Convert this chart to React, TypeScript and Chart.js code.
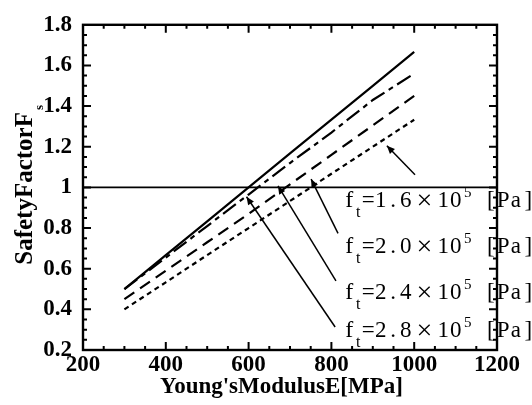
import React, { useEffect, useRef } from 'react';
import { Chart, registerables } from 'chart.js';

Chart.register(...registerables);

// ---- data ----
const E_VALUES = [300, 400, 500, 600, 700, 800, 900, 1000];
const FS_SOLID = [0.5, 0.667, 0.833, 1.0, 1.167, 1.333, 1.5, 1.667];
const FS_DASHDOT = [0.5, 0.655, 0.81, 0.965, 1.12, 1.27, 1.43, 1.56];
const FS_DASHED = [0.45, 0.59, 0.73, 0.87, 1.015, 1.16, 1.305, 1.45];
const FS_DOTTED = [0.4, 0.533, 0.667, 0.8, 0.933, 1.067, 1.2, 1.333];

const X_TICKS = [200, 400, 600, 800, 1000, 1200];
const X_TICK_LABELS = ['200', '400', '600', '800', '1000', '1200'];
const Y_TICKS = [0.2, 0.4, 0.6, 0.8, 1.0, 1.2, 1.4, 1.6, 1.8];
const Y_TICK_LABELS = ['0.2', '0.4', '0.6', '0.8', '1', '1.2', '1.4', '1.6', '1.8'];
const REFERENCE_FS = 1;

const FT_VALUES = ['1.6', '2.0', '2.4', '2.8'];
// annotation anchors in data units (E, Fs)
const LABEL_X = 828;
const LABEL_Y = [0.905, 0.678, 0.451, 0.263];
const ARROW_FROM_X = [1002, 816, 811, 809];
const ARROW_FROM_Y = [1.062, 0.774, 0.54, 0.313];
const ARROW_TO_X = [934, 751, 671, 595];
const ARROW_TO_Y = [1.205, 1.041, 1.007, 0.954];

const X_TITLE = "Young'sModulusE[MPa]";
const Y_TITLE = 'SafetyFactorF';
const Y_TITLE_SUB = 's';

const SERIF = '"Liberation Serif", "Times New Roman", serif';

function drawCell(ctx: CanvasRenderingContext2D, ch: string, x: number, y: number, w: number) {
  const m = ctx.measureText(ch).width;
  ctx.fillText(ch, x + (w - m) / 2, y);
}

function drawFtLabel(ctx: CanvasRenderingContext2D, x: number, y: number, val: string) {
  const H = 12.5;
  const main = `23px ${SERIF}`;
  const small = `16px ${SERIF}`;
  ctx.textAlign = 'left';
  ctx.textBaseline = 'alphabetic';
  let cx = x;
  ctx.font = `24px ${SERIF}`;
  drawCell(ctx, 'f', cx, y, H);
  cx += H;
  ctx.font = small;
  ctx.fillText('t', cx + 0.5, y + 10);
  cx += 6.5;
  for (const ch of '=' + val + '×10') {
    const w = ch === '×' ? 2 * H : H;
    if (ch === '×') {
      ctx.font = `28px ${SERIF}`;
      drawCell(ctx, ch, cx, y + 2, w);
    } else {
      ctx.font = main;
      drawCell(ctx, ch, cx, y, w);
    }
    cx += w;
  }
  ctx.font = `15px ${SERIF}`;
  ctx.fillText('5', cx + 2, y - 10);
  cx += 22.5;
  ctx.font = main;
  for (const ch of '[Pa]') {
    drawCell(ctx, ch, cx, y, H);
    cx += H;
  }
}

const decorPlugin = {
  id: 'decor',
  afterDatasetsDraw(chart: any) {
    const { ctx, chartArea: a, scales } = chart;
    const xs = scales.x;
    const ys = scales.y;
    ctx.save();
    ctx.strokeStyle = '#000';
    ctx.fillStyle = '#000';
    ctx.lineCap = 'butt';

    // reference line Fs = 1
    ctx.lineWidth = 1.8;
    const yr = ys.getPixelForValue(REFERENCE_FS);
    ctx.beginPath();
    ctx.moveTo(a.left, yr);
    ctx.lineTo(a.right, yr);
    ctx.stroke();

    // frame
    ctx.lineWidth = 2.4;
    ctx.strokeRect(a.left, a.top, a.right - a.left, a.bottom - a.top);

    // ticks (inward, mirrored)
    ctx.lineWidth = 2;
    const xMin = X_TICKS[0];
    const xMax = X_TICKS[X_TICKS.length - 1];
    const xStep = (X_TICKS[1] - X_TICKS[0]) / 4;
    const nx = Math.round((xMax - xMin) / xStep);
    for (let i = 1; i < nx; i++) {
      const px = xs.getPixelForValue(xMin + i * xStep);
      const len = i % 4 === 0 ? 8 : 4;
      ctx.beginPath();
      ctx.moveTo(px, a.bottom);
      ctx.lineTo(px, a.bottom - len);
      ctx.moveTo(px, a.top);
      ctx.lineTo(px, a.top + len);
      ctx.stroke();
    }
    const yMin = Y_TICKS[0];
    const yMax = Y_TICKS[Y_TICKS.length - 1];
    const yStep = (Y_TICKS[1] - Y_TICKS[0]) / 4;
    const ny = Math.round((yMax - yMin) / yStep);
    for (let i = 1; i < ny; i++) {
      const py = ys.getPixelForValue(yMin + i * yStep);
      const len = i % 4 === 0 ? 8 : 4;
      ctx.beginPath();
      ctx.moveTo(a.left, py);
      ctx.lineTo(a.left + len, py);
      ctx.moveTo(a.right, py);
      ctx.lineTo(a.right - len, py);
      ctx.stroke();
    }

    // axis titles
    ctx.font = `bold 23px ${SERIF}`;
    ctx.textAlign = 'center';
    ctx.textBaseline = 'alphabetic';
    ctx.fillText(X_TITLE, (a.left + a.right) / 2 - 8.5, 393);

    ctx.save();
    ctx.font = `bold 25px ${SERIF}`;
    const wMain = ctx.measureText(Y_TITLE).width;
    ctx.translate(32, (a.top + a.bottom) / 2 + 1);
    ctx.rotate(-Math.PI / 2);
    ctx.textAlign = 'left';
    ctx.fillText(Y_TITLE, -wMain / 2, 0);
    ctx.font = `bold 13px ${SERIF}`;
    ctx.fillText(Y_TITLE_SUB, wMain / 2 + 2, 11);
    ctx.restore();

    // arrows
    ctx.lineWidth = 1.5;
    for (let i = 0; i < FT_VALUES.length; i++) {
      const x0 = xs.getPixelForValue(ARROW_FROM_X[i]);
      const y0 = ys.getPixelForValue(ARROW_FROM_Y[i]);
      const x1 = xs.getPixelForValue(ARROW_TO_X[i]);
      const y1 = ys.getPixelForValue(ARROW_TO_Y[i]);
      const ang = Math.atan2(y1 - y0, x1 - x0);
      ctx.beginPath();
      ctx.moveTo(x0, y0);
      ctx.lineTo(x1, y1);
      ctx.stroke();
      const hl = 8;
      const hw = 3.5;
      ctx.beginPath();
      ctx.moveTo(x1, y1);
      ctx.lineTo(x1 - hl * Math.cos(ang) + hw * Math.sin(ang), y1 - hl * Math.sin(ang) - hw * Math.cos(ang));
      ctx.lineTo(x1 - hl * Math.cos(ang) - hw * Math.sin(ang), y1 - hl * Math.sin(ang) + hw * Math.cos(ang));
      ctx.closePath();
      ctx.fill();
    }

    // labels
    for (let i = 0; i < FT_VALUES.length; i++) {
      const lx = xs.getPixelForValue(LABEL_X);
      const ly = ys.getPixelForValue(LABEL_Y[i]);
      drawFtLabel(ctx, lx, ly, FT_VALUES[i]);
    }
    ctx.restore();
  },
};

function series(vals: number[]) {
  return E_VALUES.map((e, i) => ({ x: e, y: vals[i] }));
}

export default function App() {
  const ref = useRef<HTMLCanvasElement | null>(null);
  useEffect(() => {
    document.body.style.margin = '0';
    const canvas = ref.current;
    if (!canvas) return;
    const common = {
      borderColor: '#000',
      backgroundColor: '#000',
      borderWidth: 2.2,
      pointRadius: 0,
      fill: false,
      tension: 0,
    };
    const tickFont = { family: SERIF, size: 23, weight: 'bold' as const };
    const chart = new Chart(canvas, {
      type: 'line',
      data: {
        datasets: [
          { ...common, data: series(FS_SOLID) },
          { ...common, data: series(FS_DASHDOT), borderDash: [16, 5, 5, 5] },
          { ...common, data: series(FS_DASHED), borderDash: [12, 7] },
          { ...common, data: series(FS_DOTTED), borderDash: [5, 4] },
        ],
      },
      options: {
        responsive: false,
        animation: false,
        devicePixelRatio: 1,
        layout: { padding: { top: 21, right: 35, left: 0, bottom: 0 } },
        plugins: { legend: { display: false }, tooltip: { enabled: false } },
        scales: {
          x: {
            type: 'linear',
            min: X_TICKS[0],
            max: X_TICKS[X_TICKS.length - 1],
            afterBuildTicks: (s: any) => {
              s.ticks = X_TICKS.map((v) => ({ value: v }));
            },
            afterFit: (s: any) => {
              s.height = 55;
            },
            grid: { display: false, drawTicks: false },
            border: { display: false },
            ticks: {
              autoSkip: false,
              maxRotation: 0,
              padding: 1,
              color: '#000',
              font: tickFont,
              callback: (_v: any, i: number) => X_TICK_LABELS[i],
            },
          },
          y: {
            type: 'linear',
            min: Y_TICKS[0],
            max: Y_TICKS[Y_TICKS.length - 1],
            afterBuildTicks: (s: any) => {
              s.ticks = Y_TICKS.map((v) => ({ value: v }));
            },
            afterFit: (s: any) => {
              s.width = 83;
            },
            grid: { display: false, drawTicks: false },
            border: { display: false },
            ticks: {
              autoSkip: false,
              padding: 11,
              color: '#000',
              font: tickFont,
              callback: (_v: any, i: number) => Y_TICK_LABELS[i],
            },
          },
        },
      },
      plugins: [decorPlugin],
    });
    return () => chart.destroy();
  }, []);
  return (
    <div style={{ position: 'fixed', left: 0, top: 0, width: 532, height: 405, background: '#fff' }}>
      <canvas ref={ref} width={532} height={405} style={{ width: 532, height: 405 }} />
    </div>
  );
}
